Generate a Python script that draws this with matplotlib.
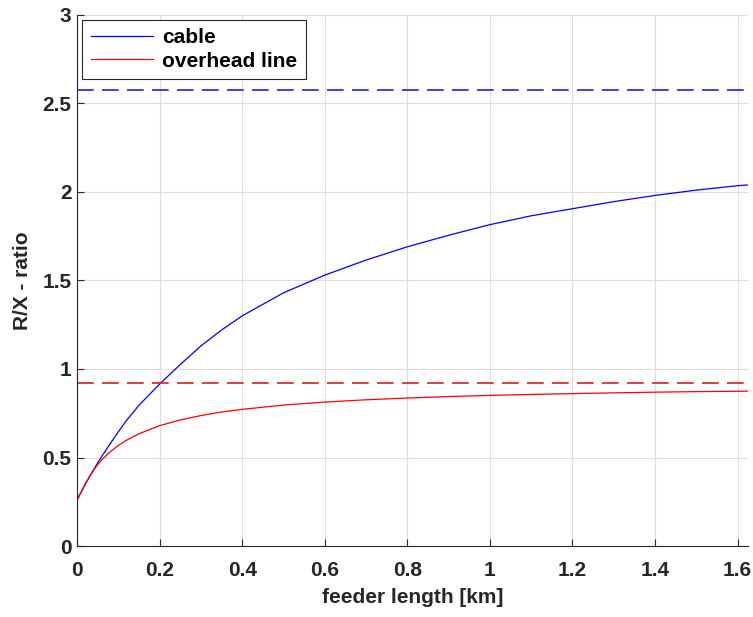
import matplotlib
matplotlib.use("Agg")
import matplotlib.pyplot as plt
from matplotlib.ticker import FormatStrFormatter

# longueur du départ [km]
longueur = [0, 0.01, 0.02, 0.03, 0.04, 0.05, 0.06, 0.08, 0.1, 0.12, 0.15, 0.2,
            0.25, 0.3, 0.35, 0.4, 0.5, 0.6, 0.7, 0.8, 0.9, 1.0, 1.1, 1.2,
            1.3, 1.4, 1.5, 1.6, 1.63]

# rapport R/X
rx_cable = [0.26, 0.305, 0.349, 0.391, 0.431, 0.47, 0.507, 0.577, 0.645, 0.71,
            0.795, 0.915, 1.025, 1.13, 1.22, 1.30, 1.43, 1.53, 1.615, 1.69,
            1.755, 1.815, 1.865, 1.905, 1.945, 1.98, 2.01, 2.035, 2.04]
rx_aerien = [0.26, 0.307, 0.352, 0.392, 0.428, 0.46, 0.487, 0.532, 0.568, 0.598,
             0.634, 0.68, 0.712, 0.737, 0.757, 0.772, 0.796, 0.813, 0.826, 0.836,
             0.844, 0.851, 0.856, 0.861, 0.865, 0.869, 0.872, 0.874, 0.875]

# asymptotes (pointillés)
asym_cable = 2.575
asym_aerien = 0.918

plt.rcParams['font.family'] = ['Liberation Sans', 'DejaVu Sans']
plt.rcParams['font.weight'] = 'bold'

fig = plt.figure(figsize=(7.53, 6.17), dpi=100)
ax = fig.add_axes([0.1023, 0.115, 0.891, 0.861])

ax.plot(longueur, rx_cable, color='#0000ff', lw=0.9, label='cable')
ax.plot(longueur, rx_aerien, color='#ff0000', lw=0.9, label='overhead line')
ax.axhline(asym_cable, color='#2020d0', lw=1.2, dashes=(10, 5))
ax.axhline(asym_aerien, color='#d02020', lw=1.2, dashes=(10, 5))

ax.set_xlim(0, 1.625)
ax.set_ylim(0, 3)
ax.set_xticks([0, 0.2, 0.4, 0.6, 0.8, 1.0, 1.2, 1.4, 1.6])
ax.set_yticks([0, 0.5, 1, 1.5, 2, 2.5, 3])
ax.xaxis.set_major_formatter(FormatStrFormatter('%g'))
ax.yaxis.set_major_formatter(FormatStrFormatter('%g'))

ax.grid(True, color='#dcdcdc', lw=0.8)
ax.set_axisbelow(True)
for s in ['top', 'right']:
    ax.spines[s].set_visible(False)
for s in ['left', 'bottom']:
    ax.spines[s].set_color('#262626')
    ax.spines[s].set_linewidth(0.8)
ax.tick_params(direction='in', length=5, width=0.8, colors='#262626',
               labelsize=15, labelcolor='#262626')
ax.tick_params(axis='x', pad=11)
ax.tick_params(axis='y', pad=4)

ax.set_xlabel('feeder length [km]', fontsize=15, fontweight='bold', color='#262626')
ax.set_ylabel('R/X - ratio', fontsize=15, fontweight='bold', color='#262626')
ax.xaxis.set_label_coords(0.5, -0.079)
ax.yaxis.set_label_coords(-0.067, 0.5)

leg = ax.legend(loc='upper left', fontsize=15, fancybox=False, framealpha=1,
                edgecolor='#262626', handlelength=3.0, borderaxespad=0.25,
                borderpad=0.4, labelspacing=0.2, handletextpad=0.45)
leg.get_frame().set_linewidth(0.8)

fig.savefig('out.png', dpi=100)
